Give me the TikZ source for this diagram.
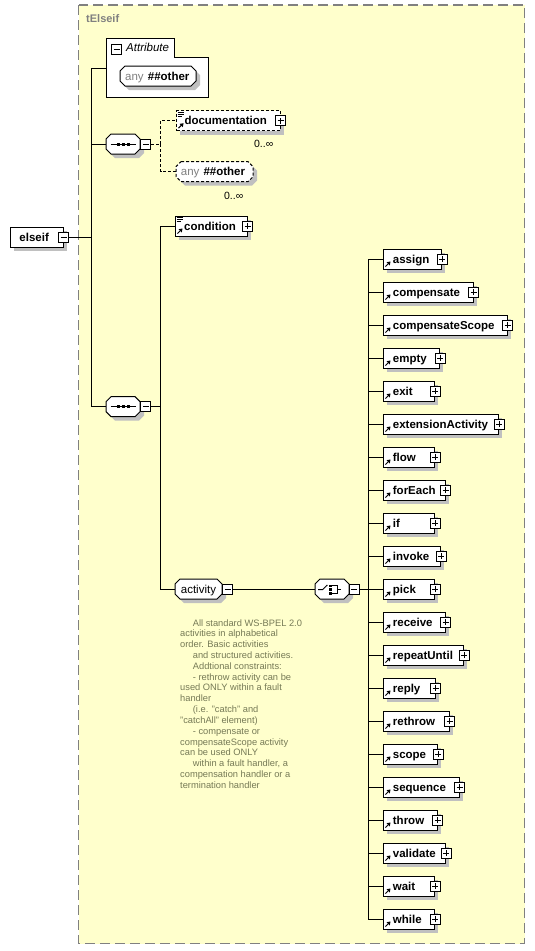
\documentclass[tikz,border=0pt]{standalone}
\usepackage{fontspec}
\setmainfont{Liberation Sans}
\definecolor{bgyel}{RGB}{255,255,204}
\definecolor{shadowc}{RGB}{192,192,192}
\definecolor{bordgray}{RGB}{128,128,128}
\definecolor{anncol}{RGB}{118,122,86}
\definecolor{anygray}{RGB}{128,128,128}
\tikzset{
 conn/.style={line width=1pt, black},
 dconn/.style={line width=1pt, black, dash pattern=on 3pt off 2pt},
 ebox/.style={draw, line width=1pt, fill=white, minimum height=20pt, inner sep=0pt, rectangle},
 etext/.style={font=\fontsize{11.5}{13}\selectfont\bfseries, inner sep=0pt, anchor=base west},
 rtext/.style={font=\fontsize{11.5}{13}\selectfont, inner sep=0pt, anchor=base west},
 pmbox/.style={draw, line width=1pt, fill=white, minimum width=10pt, minimum height=10pt, inner sep=0pt},
 inv/.style={inner sep=0pt, minimum height=20pt, draw=none},
 octstyle/.style={line width=1pt, draw=black, fill=white},
 ann/.style={font=\fontsize{9.3}{11}\selectfont, text=anncol, inner sep=0pt, anchor=base west},
 mult/.style={font=\fontsize{10.5}{12}\selectfont, inner sep=0pt, anchor=base east},
}
\newcommand\plusat[2]{\node[pmbox] (#1) at (#2) {};
 \draw[line width=1pt] ([xshift=-3]#1.center) -- ([xshift=3]#1.center) ([yshift=-3]#1.center) -- ([yshift=3]#1.center);}
\newcommand\minusat[2]{\node[pmbox] (#1) at (#2) {};
 \draw[line width=1pt] ([xshift=-3]#1.center) -- ([xshift=3]#1.center);}
\newcommand\refarrow[2]{% x left, y bottom
 \draw[line width=1pt] (#1+2.5,#2-2.5) -- (#1+5.5,#2-5.5);
 \fill (#1+7.5,#2-7.5) -- (#1+3.5,#2-6.8) -- (#1+6.8,#2-3.5) -- cycle;}
\newcommand\docicon[2]{% x left, y top
 \draw[line width=0.8pt] (#1+1.7,#2+1.8) -- (#1+7.7,#2+1.8) (#1+1.7,#2+3.8) -- (#1+7.7,#2+3.8) (#1+1.7,#2+5.8) -- (#1+6.2,#2+5.8);}
\newcommand\octo[5]{% x1 y1 x2 y2 style
 \fill[shadowc] (#1+9,#2+4) -- (#3-1,#2+4) -- (#3+4,#2+9) -- (#3+4,#4-1) -- (#3-1,#4+4) -- (#1+9,#4+4) -- (#1+4,#4-1) -- (#1+4,#2+9) -- cycle;
 \draw[#5] (#1+5,#2) -- (#3-5,#2) -- (#3,#2+5) -- (#3,#4-5) -- (#3-5,#4) -- (#1+5,#4) -- (#1,#4-5) -- (#1,#2+5) -- cycle;}
\newcommand\elem[4]{% name, text, cy, right x
 \fill[shadowc] (387,#3-6) rectangle (#4+4,#3+14);
 \node[ebox, anchor=west, minimum width={#4-383}] (#1) at (383,#3) {};
 \node[etext] (#1-t) at (392.7,#3+4) {#2};
 \refarrow{383}{#3+10}
 \plusat{#1-p}{#1.east}
 \draw[conn] (bus) |- (#1.west);}
\newcommand\seqsym[1]{% cy
 \draw[line width=1pt] (110.7,#1) -- (136,#1);
 \fill (116.5,#1-1.5) rectangle (119.5,#1+1.5);
 \fill (121.8,#1-1.5) rectangle (124.8,#1+1.5);
 \fill (127.1,#1-1.5) rectangle (130.1,#1+1.5);}
\begin{document}
\begin{tikzpicture}[x=1pt,y=-1pt]
\useasboundingbox (0,0) rectangle (535,951);
\fill[white] (0,0) rectangle (535,951);
% outer complex type box
\draw[bordgray, line width=1.5pt, dash pattern=on 10pt off 5pt, fill=bgyel] (78.5,5) rectangle (524.5,943.5);
\node[font=\fontsize{11}{13}\selectfont\bfseries, text=bordgray, anchor=base west, inner sep=0pt] (title) at (86,22.5) {tElseif};

% elseif root
\fill[shadowc] (14,231.3) rectangle (66.7,251.3);
\node[ebox, anchor=west, minimum width=52.7] (elseif) at (10,237.3) {};
\node[etext] (elseif-t) at (19.3,241.3) {elseif};
\minusat{elseif-m}{elseif.east}
\coordinate (t1) at (91.7,237.3);
\draw[conn] (elseif-m.east) -- (t1);

% Attribute box
\draw[line width=1pt, fill=white] (106,38) -- (174,38) -- (174,57) -- (208,57) -- (208,97) -- (106,97) -- cycle;
\minusat{attr-m}{116.5,49.3}
\node[font=\fontsize{11.5}{13}\selectfont\itshape, inner sep=0pt, anchor=base west] (attr-t) at (126,51.7) {Attribute};
\coordinate (attrin) at (106,68);
\octo{120}{66}{196}{86}{octstyle}
\node[rtext, text=anygray] (any1-a) at (125,80) {any};
\node[etext] (any1-o) at (147.7,80) {\#\#other};
\draw[conn] (t1) |- (attrin);

% first sequence
\node[inv, minimum width=34] (s1) at (123,144) {};
\octo{106}{134}{140}{154}{octstyle}
\seqsym{144}
\minusat{s1-m}{145.8,144}
\draw[conn] (t1) |- (s1.west);
\coordinate (v1) at (160.7,144);
\draw[dconn] (s1-m.east) -- (v1);

% documentation
\fill[shadowc] (180,114.7) rectangle (283.5,134.7);
\node[ebox, anchor=west, minimum width=103.5, dash pattern=on 3pt off 2pt] (doc) at (176,120.7) {};
\node[etext] (doc-t) at (184.3,124.7) {documentation};
\docicon{176}{110.7}
\refarrow{176}{130.7}
\plusat{doc-p}{doc.east}
\node[mult] (doc-m) at (273.5,147) {0..∞};
\draw[dconn] (v1) |- (doc.west);

% any ##other (elements)
\node[inv, minimum width=77] (any2) at (214.5,171.7) {};
\octo{176}{161.7}{253}{181.7}{octstyle, dash pattern=on 3pt off 2pt}
\node[rtext, text=anygray] (any2-a) at (180.7,175.7) {any};
\node[etext] (any2-o) at (203.3,175.7) {\#\#other};
\node[mult] (any2-m) at (243.5,199.5) {0..∞};
\draw[dconn] (v1) |- (any2.west);

% second sequence
\node[inv, minimum width=34] (s2) at (123,406.7) {};
\octo{106}{396.7}{140}{416.7}{octstyle}
\seqsym{406.7}
\minusat{s2-m}{145.8,406.7}
\draw[conn] (t1) |- (s2.west);
\coordinate (v2) at (160.7,406.7);
\draw[conn] (s2-m.east) -- (v2);

% condition
\fill[shadowc] (179,220) rectangle (250.7,240);
\node[ebox, anchor=west, minimum width=71.7] (cond) at (175,226) {};
\node[etext] (cond-t) at (184,230) {condition};
\docicon{175}{216}
\refarrow{175}{236}
\plusat{cond-p}{cond.east}
\draw[conn] (v2) |- (cond.west);

% activity group
\node[inv, minimum width=47] (act) at (198.5,589) {};
\octo{175}{579}{222}{599}{octstyle}
\node[rtext] (act-t) at (180.7,593.3) {activity};
\minusat{act-m}{227.7,589}
\draw[conn] (v2) |- (act.west);

% choice
\node[inv, minimum width=34] (ch) at (332,589) {};
\octo{315}{579}{349}{599}{octstyle}
\draw[line width=1pt] (318,589.5) -- (322.7,589.5) -- (327.3,585);
\fill (329.3,584.5) rectangle (332.3,587.3);
\fill (329.3,588.1) rectangle (332.3,590.9);
\fill (329.3,591.7) rectangle (332.3,594.5);
\draw[line width=1pt] (332.3,585.3) -- (337,585.3) -- (337,593.8) -- (332.3,593.8);
\draw[line width=1pt] (337,589.5) -- (341,589.5);
\minusat{ch-m}{354,589}
\draw[conn] (act-m.east) -- (ch.west);
\coordinate (bus) at (368.3,589);
\draw[conn] (ch-m.east) -- (bus);

% annotation
\foreach \txt/\xx [count=\i from 0] in {
 {All standard WS-BPEL 2.0}/192.7,
 {activities in alphabetical}/180,
 {order. Basic activities}/180,
 {and structured activities.}/192.7,
 {Addtional constraints:}/192.7,
 {- rethrow activity can be}/192.7,
 {used ONLY within a fault}/180,
 {handler}/180,
 {(i.e. "catch" and}/192.7,
 {"catchAll" element)}/180,
 {- compensate or}/192.7,
 {compensateScope activity}/180,
 {can be used ONLY}/180,
 {within a fault handler, a}/192.7,
 {compensation handler or a}/180,
 {termination handler}/180}
 \node[ann] (ann\i) at (\xx,626+10.82*\i) {\txt};

% activities
\elem{assign}{assign}{259}{441}
\elem{compensate}{compensate}{292}{472.7}
\elem{compensateScope}{compensateScope}{325}{506.7}
\elem{empty}{empty}{358}{439}
\elem{exit}{exit}{391}{434.3}
\elem{extensionActivity}{extensionActivity}{424}{498.3}
\elem{flow}{flow}{457}{434.3}
\elem{forEach}{forEach}{490}{444.7}
\elem{if}{if}{523}{434.3}
\elem{invoke}{invoke}{556}{440.3}
\elem{pick}{pick}{589}{434.3}
\elem{receive}{receive}{622}{444.7}
\elem{repeatUntil}{repeatUntil}{655}{463.3}
\elem{reply}{reply}{688}{434.7}
\elem{rethrow}{rethrow}{721}{448.7}
\elem{scope}{scope}{754}{437.3}
\elem{sequence}{sequence}{787}{458.7}
\elem{throw}{throw}{820}{436.7}
\elem{validate}{validate}{853}{445.3}
\elem{wait}{wait}{886}{434.3}
\elem{while}{while}{919}{434.3}
\end{tikzpicture}
\end{document}
